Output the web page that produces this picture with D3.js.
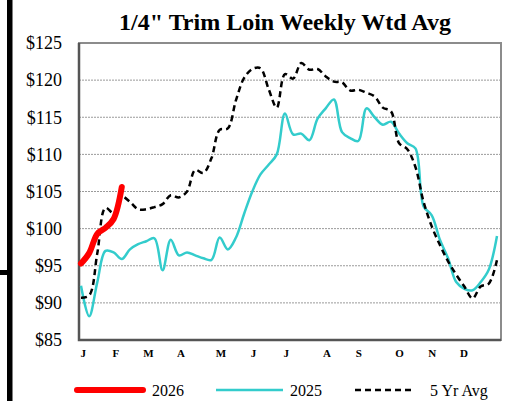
<!DOCTYPE html>
<html><head><meta charset="utf-8">
<script src="https://cdn.jsdelivr.net/npm/d3@7"></script>
<style>html,body{margin:0;padding:0;background:#fff;}svg{display:block;}</style>
</head><body>
<svg id="chart" width="509" height="401"></svg>
<script>
const weeks = d3.range(1, 53);
const series2026 = [95.3, 96.7, 99.3, 100.1, 101.3, 105.6];
const series2025 = [92.3, 88.2, 92.8, 97.0, 96.8, 95.9, 97.2, 97.9, 98.3, 98.7,
  94.4, 98.5, 96.4, 96.8, 96.4, 96.0, 95.8, 98.8, 97.2, 98.8,
  102.0, 105.0, 107.3, 108.6, 110.0, 115.5, 112.7, 112.8, 111.9, 114.8,
  116.2, 117.4, 113.0, 112.2, 111.8, 116.2, 115.0, 114.0, 114.4, 112.8,
  111.5, 110.8, 103.0, 101.8, 98.5, 96.0, 92.8, 91.9, 91.7, 92.8,
  94.5, 99.0];
const series5yr = [90.7, 91.0, 96.7, 102.8, 102.1, 104.3, 103.6, 102.6, 102.6, 102.9,
  103.3, 104.5, 104.2, 105.0, 107.9, 107.5, 109.5, 113.3, 113.5, 117.3,
  120.3, 121.5, 121.6, 118.8, 116.3, 120.8, 120.2, 122.3, 121.4, 121.5,
  120.5, 119.8, 119.7, 118.6, 118.7, 118.3, 117.8, 116.3, 115.8, 111.5,
  110.7, 108.3, 103.6, 100.3, 97.8, 95.6, 93.8, 92.2, 90.6, 92.2,
  92.6, 95.8];
const monthLabels = ["J","F","M","A","M","J","J","A","S","O","N","D"];
const monthWeeks = [1.2, 5.2, 9.2, 13.2, 18.1, 22.1, 26.1, 31.1, 35.0, 40.0, 44.0, 47.9];
const yTicks = [85, 90, 95, 100, 105, 110, 115, 120, 125];
const gridTicks = [90, 95, 100, 105, 110, 115, 120];
const legendItems = ["2026", "2025", "5 Yr Avg"];

const svg = d3.select("#chart");
const L = 79, R = 501, T = 43, B = 340;
const x = d3.scaleLinear().domain([1, 52]).range([81, 497]);
const y = d3.scaleLinear().domain([85, 125]).range([B, T]);
const serif = "'Liberation Serif', 'Times New Roman', serif";

// left decorative bars
svg.append("rect").attr("x", 7).attr("y", 0).attr("width", 5.5).attr("height", 401).attr("fill", "#000");
svg.append("rect").attr("x", 0).attr("y", 270).attr("width", 8).attr("height", 5).attr("fill", "#000");

// title
svg.append("text").attr("x", 285).attr("y", 30).attr("text-anchor", "middle")
  .attr("font-family", serif).attr("font-weight", "bold").attr("font-size", 24)
  .text('1/4" Trim Loin Weekly Wtd Avg');

// gridlines
svg.append("g").selectAll("line").data(gridTicks).join("line")
  .attr("x1", L).attr("x2", R).attr("y1", d => y(d)).attr("y2", d => y(d))
  .attr("stroke", "#9a9a9a").attr("stroke-width", 1).attr("stroke-dasharray", "2,1");

// frame
svg.append("rect").attr("x", L).attr("y", T).attr("width", R - L).attr("height", B - T)
  .attr("fill", "none").attr("stroke", "#8c8c8c").attr("stroke-width", 2);
svg.append("path").attr("d", `M${L},${T}V${B}H${R}`).attr("fill", "none")
  .attr("stroke", "#555").attr("stroke-width", 2.5);

// y axis
const yAxis = svg.append("g").attr("transform", `translate(${L},0)`)
  .call(d3.axisLeft(y).tickValues(yTicks).tickSize(0).tickPadding(17).tickFormat(d => "$" + d));
yAxis.select(".domain").remove();
yAxis.selectAll("text").attr("font-family", serif).attr("font-size", 18).attr("fill", "#000");

// x axis
const xAxis = svg.append("g").attr("transform", `translate(0,${B})`)
  .call(d3.axisBottom(x).tickValues(monthWeeks).tickSize(0).tickPadding(9)
    .tickFormat((d, i) => monthLabels[i]));
xAxis.select(".domain").remove();
xAxis.selectAll("text").attr("font-family", serif).attr("font-size", 11)
  .attr("font-weight", "bold").attr("fill", "#000");

const line = d3.line().x(d => x(d[0])).y(d => y(d[1])).curve(d3.curveCatmullRom.alpha(0.5));

svg.append("path").datum(series2025.map((v, i) => [weeks[i], v])).attr("d", line)
  .attr("fill", "none").attr("stroke", "#33CCCC").attr("stroke-width", 2.5);
svg.append("path").datum(series5yr.map((v, i) => [weeks[i], v])).attr("d", line)
  .attr("fill", "none").attr("stroke", "#000").attr("stroke-width", 2.5)
  .attr("stroke-dasharray", "6,4");
svg.append("path").datum(series2026.map((v, i) => [weeks[i], v])).attr("d", line)
  .attr("fill", "none").attr("stroke", "#FF0000").attr("stroke-width", 6)
  .attr("stroke-linecap", "round");

// legend
const lg = svg.append("g");
const legendX = [[77, 143, 152], [216, 283, 290], [355, 415, 430]];
const legendStyle = [
  {stroke: "#FF0000", w: 6, dash: null, cap: "round"},
  {stroke: "#33CCCC", w: 2.5, dash: null, cap: "butt"},
  {stroke: "#000", w: 2.5, dash: "6,4", cap: "butt"}];
legendItems.forEach((name, i) => {
  lg.append("line").attr("x1", legendX[i][0]).attr("x2", legendX[i][1]).attr("y1", 390).attr("y2", 390)
    .attr("stroke", legendStyle[i].stroke).attr("stroke-width", legendStyle[i].w)
    .attr("stroke-dasharray", legendStyle[i].dash).attr("stroke-linecap", legendStyle[i].cap);
  lg.append("text").attr("x", legendX[i][2]).attr("y", 396).attr("font-family", serif)
    .attr("font-size", 16).attr("fill", "#000").text(name);
});
</script>
</body></html>
